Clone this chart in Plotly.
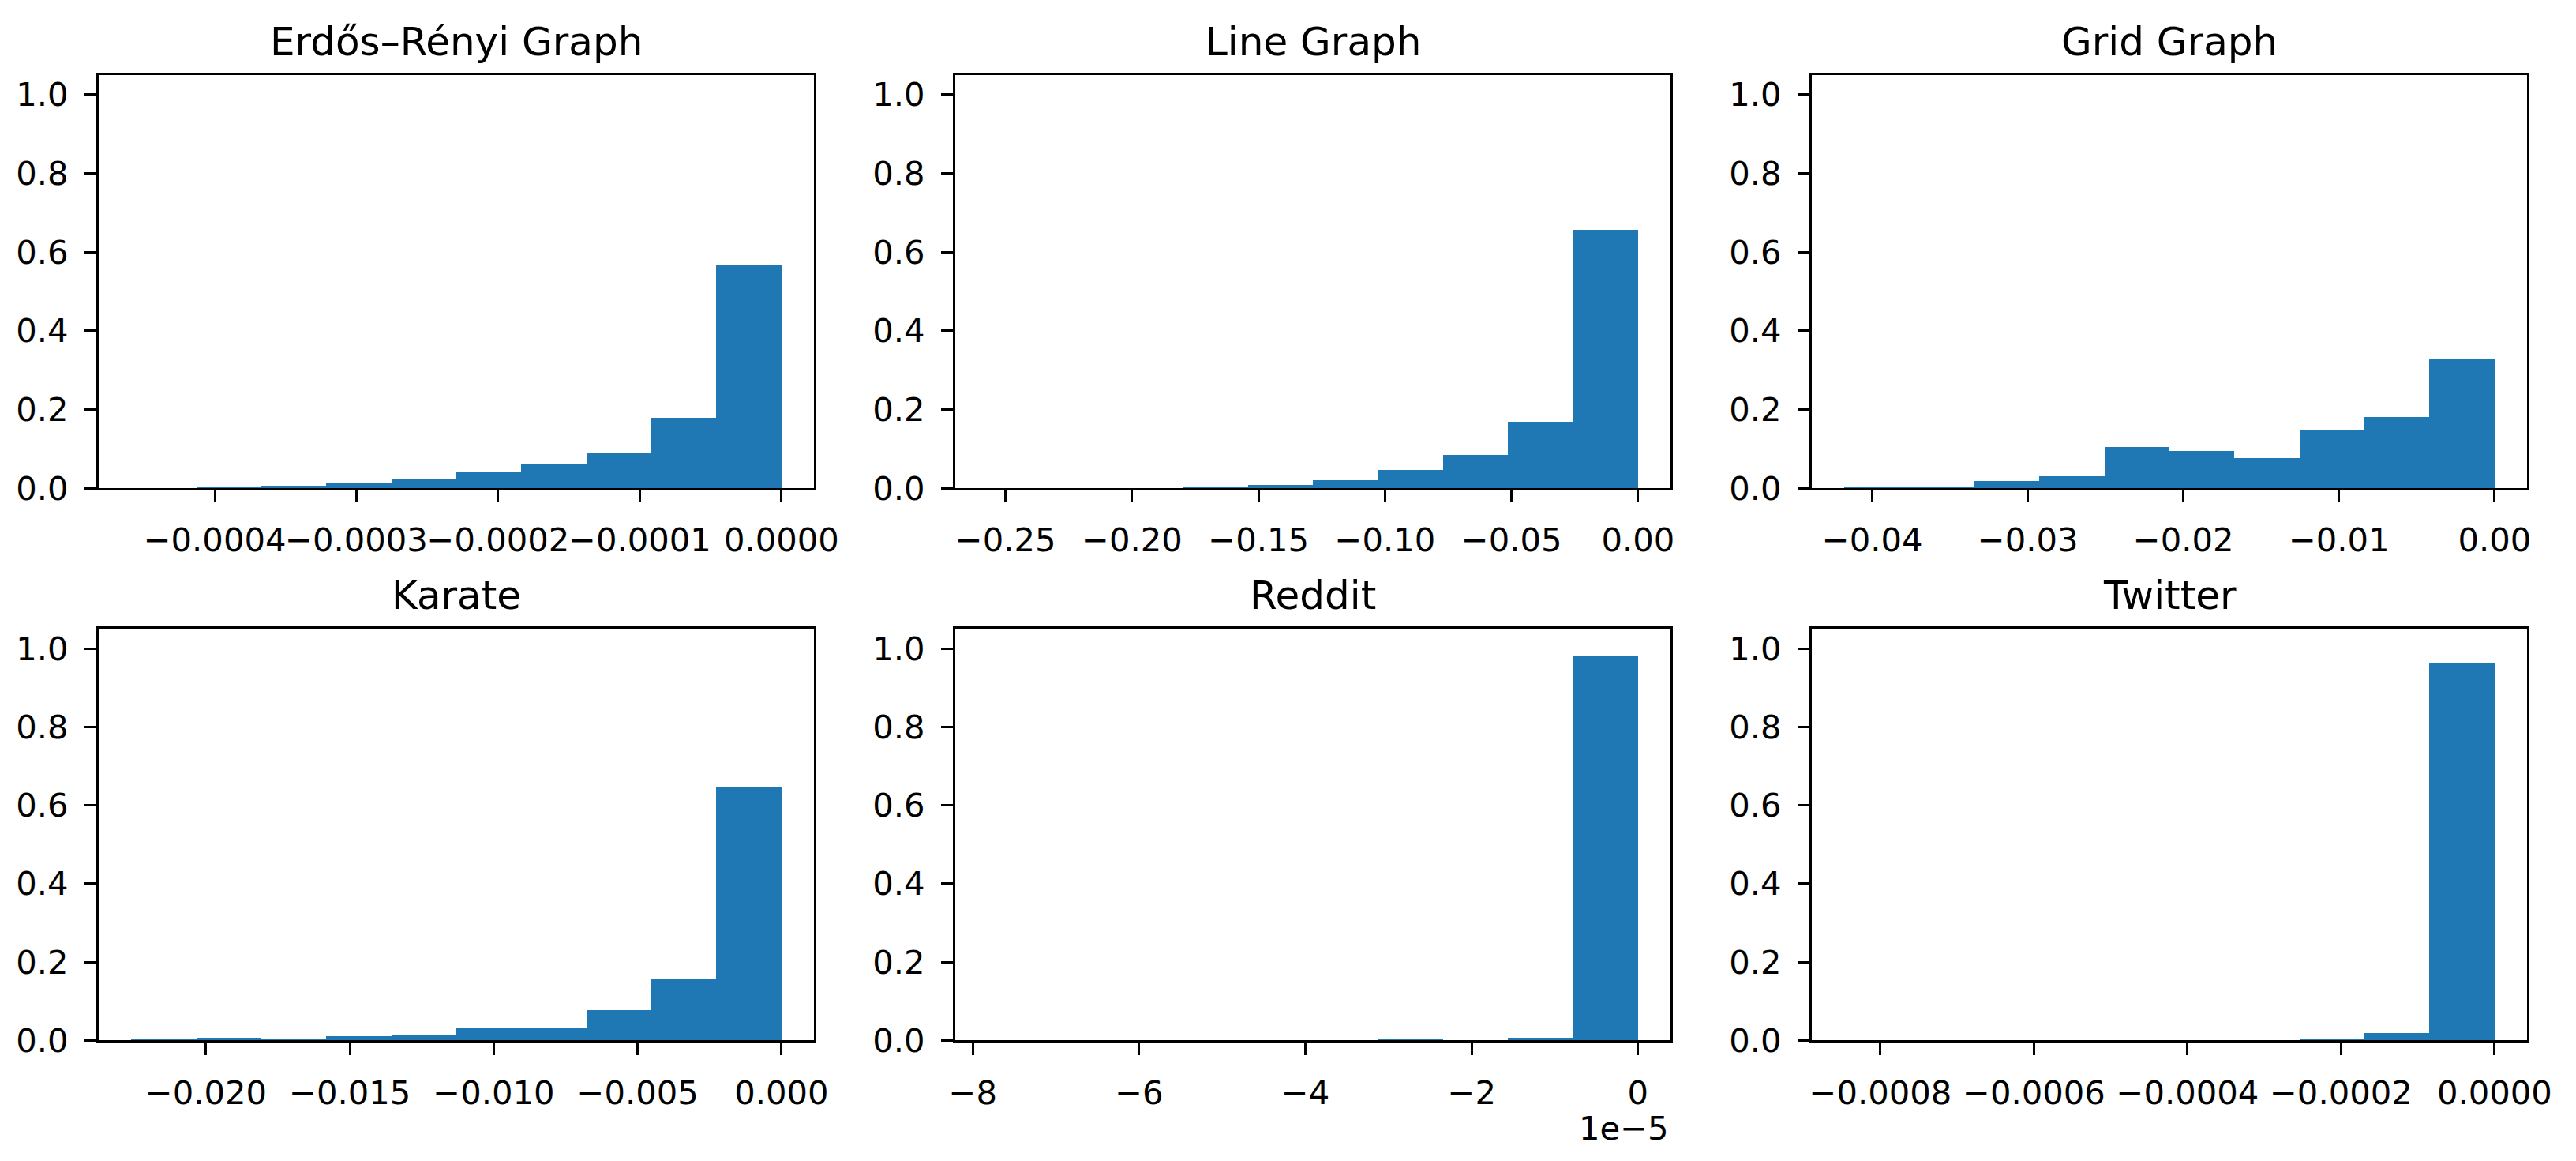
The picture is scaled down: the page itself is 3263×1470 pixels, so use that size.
import numpy as np
import plotly.graph_objects as go

# ---------------- data ----------------
titles = ["Erdős–Rényi Graph", "Line Graph", "Grid Graph", "Karate", "Reddit", "Twitter"]

# minimum value of each sample (histogram spans [min, 0] in 10 equal bins)
er_min = -4.59e-4
line_min = -0.257
grid_min = -0.0418
karate_min = -0.0226
reddit_min = -7.82e-5
twitter_min = -8.47e-4

# fraction of values in each of the 10 bins
er_heights = [0.0, 0.0027, 0.0074, 0.0134, 0.0255, 0.0435, 0.0636, 0.091, 0.179, 0.567]
line_heights = [0.0, 0.0, 0.0, 0.0027, 0.0094, 0.021, 0.0476, 0.085, 0.169, 0.657]
grid_heights = [0.0047, 0.0027, 0.0188, 0.0308, 0.105, 0.095, 0.077, 0.147, 0.181, 0.330]
karate_heights = [0.0047, 0.0067, 0.0027, 0.0094, 0.0134, 0.033, 0.033, 0.077, 0.158, 0.648]
reddit_heights = [0.0, 0.0, 0.0, 0.0, 0.0, 0.0, 0.0027, 0.0, 0.0054, 0.982]
twitter_heights = [0.0, 0.0, 0.0, 0.0, 0.0, 0.0, 0.0, 0.0047, 0.0188, 0.963]

# tick values / labels
y_tickvals = [0.0, 0.2, 0.4, 0.6, 0.8, 1.0]
y_ticktext = ["0.0", "0.2", "0.4", "0.6", "0.8", "1.0"]

er_tickvals = [-4e-4, -3e-4, -2e-4, -1e-4, 0.0]
er_ticktext = ["−0.0004", "−0.0003", "−0.0002", "−0.0001", "0.0000"]
line_tickvals = [-0.25, -0.20, -0.15, -0.10, -0.05, 0.0]
line_ticktext = ["−0.25", "−0.20", "−0.15", "−0.10", "−0.05", "0.00"]
grid_tickvals = [-0.04, -0.03, -0.02, -0.01, 0.0]
grid_ticktext = ["−0.04", "−0.03", "−0.02", "−0.01", "0.00"]
karate_tickvals = [-0.020, -0.015, -0.010, -0.005, 0.0]
karate_ticktext = ["−0.020", "−0.015", "−0.010", "−0.005", "0.000"]
reddit_tickvals = [-8e-5, -6e-5, -4e-5, -2e-5, 0.0]
reddit_ticktext = ["−8", "−6", "−4", "−2", "0"]
twitter_tickvals = [-8e-4, -6e-4, -4e-4, -2e-4, 0.0]
twitter_ticktext = ["−0.0008", "−0.0006", "−0.0004", "−0.0002", "0.0000"]
reddit_offset_text = "1e−5"

# ---------------- figure ----------------
W, H = 3263, 1470
FONT = "DejaVu Sans"
BLUE = "#1f77b4"
LW = 3.3

panels = [
    (er_min, er_heights, er_tickvals, er_ticktext),
    (line_min, line_heights, line_tickvals, line_ticktext),
    (grid_min, grid_heights, grid_tickvals, grid_ticktext),
    (karate_min, karate_heights, karate_tickvals, karate_ticktext),
    (reddit_min, reddit_heights, reddit_tickvals, reddit_ticktext),
    (twitter_min, twitter_heights, twitter_tickvals, twitter_ticktext),
]

# axes boxes in pixels (left, right, top, bottom)
col_px = [(125, 1031), (1210, 2116), (2295, 3201)]
row_px = [(94.6, 618.3), (796.3, 1317.4)]

fig = go.Figure()
annotations = []
layout = {}
for i, (lo, h, tv, tt) in enumerate(panels):
    r, c = divmod(i, 3)
    n = i + 1
    xa = "x" if n == 1 else f"x{n}"
    ya = "y" if n == 1 else f"y{n}"
    edges = np.linspace(lo, 0.0, len(h) + 1)
    bw = edges[1] - edges[0]
    fig.add_trace(go.Bar(
        x=edges[:-1], y=h, width=[bw] * len(h), offset=0,
        marker=dict(color=BLUE, line=dict(width=0)),
        xaxis=xa, yaxis=ya, showlegend=False, hoverinfo="x+y",
    ))
    span = -lo
    x0, x1 = col_px[c]
    t, b = row_px[r]
    xdom = [x0 / W, x1 / W]
    ydom = [1 - b / H, 1 - t / H]
    common = dict(
        showline=True, linecolor="black", linewidth=LW, mirror=True,
        ticks="outside", ticklen=15, tickwidth=LW, tickcolor="black",
        showgrid=False, zeroline=False, automargin=False, tickangle=0,
        tickfont=dict(family=FONT, size=41.7, color="black"),
        ticklabelstandoff=12,
    )
    layout["xaxis" if n == 1 else f"xaxis{n}"] = dict(
        domain=xdom, anchor=ya, range=[lo - 0.05 * span, 0.05 * span],
        tickmode="array", tickvals=tv, ticktext=tt, **common)
    layout["yaxis" if n == 1 else f"yaxis{n}"] = dict(
        domain=ydom, anchor=xa, range=[0, 1.05],
        tickmode="array", tickvals=y_tickvals, ticktext=y_ticktext, **common)
    annotations.append(dict(
        text=titles[i], xref="paper", yref="paper",
        x=(xdom[0] + xdom[1]) / 2, y=ydom[1], xanchor="center", yanchor="bottom",
        yshift=11, showarrow=False,
        font=dict(family=FONT, size=50, color="black"),
    ))

# offset text for Reddit axis
annotations.append(dict(
    text=reddit_offset_text, xref="paper", yref="paper",
    x=col_px[1][1] / W, y=1 - 1402 / H, xanchor="right", yanchor="top",
    showarrow=False, font=dict(family=FONT, size=41.7, color="black"),
))

fig.update_layout(
    width=W, height=H, margin=dict(l=0, r=0, t=0, b=0, pad=0, autoexpand=False),
    paper_bgcolor="white", plot_bgcolor="white",
    annotations=annotations, bargap=0, **layout,
)

fig.write_html(
    "out.html",
    config={"displayModeBar": False},
    post_script="document.body.style.margin='0';",
)
